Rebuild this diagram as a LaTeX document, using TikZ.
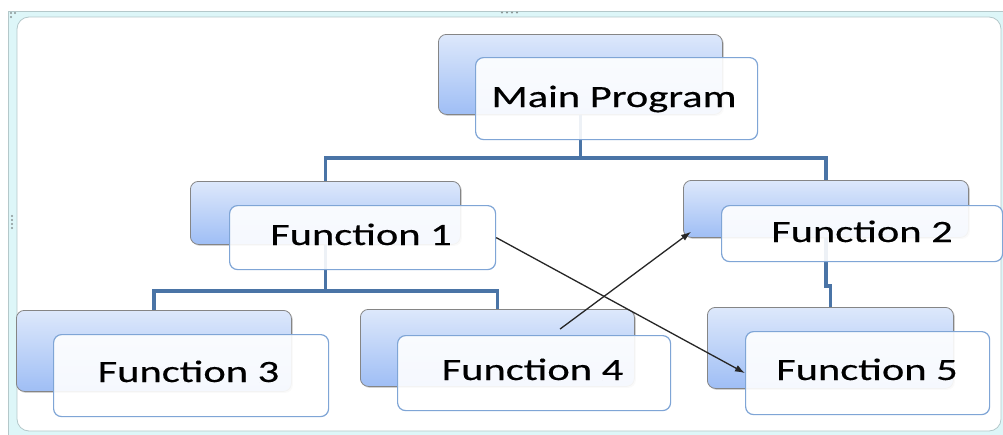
\documentclass[tikz,border=0pt]{standalone}
\usepackage{fontspec}
\setmainfont{Carlito}
\newfontfamily\boxfont[FakeStretch=1.37,FakeBold=0.4]{Carlito}
\usetikzlibrary{arrows.meta,shadows,calc}
\definecolor{boxtop}{HTML}{DDE8FB}
\definecolor{boxbot}{HTML}{9FBEF5}
\definecolor{boxedge}{HTML}{858585}
\definecolor{frontedge}{HTML}{7FA5D6}
\definecolor{linkblue}{HTML}{4A74A6}
\definecolor{bandcyan}{HTML}{DDF6F8}
\definecolor{bandedge}{HTML}{B4C8CA}
\definecolor{handle}{HTML}{8A9696}
\begin{document}
\begin{tikzpicture}[x=1pt,y=-1pt,
  backbox/.style={draw=boxedge, line width=0.8pt, rounded corners=8pt,
    top color=boxtop, bottom color=boxbot,
    drop shadow={shadow xshift=1.5pt, shadow yshift=-1.5pt, opacity=0.35},
    anchor=north west, inner sep=0pt},
  frontbox/.style={draw=frontedge, line width=1.2pt, rounded corners=8pt,
    fill=white, fill opacity=0.9, anchor=north west, inner sep=0pt},
  lbl/.style={anchor=base, inner sep=0pt, font=\boxfont\fontsize{31pt}{36pt}\selectfont},
  conn/.style={draw=linkblue, line width=3.5pt},
  arr/.style={draw=black!85, line width=1.3pt, -{Latex[length=10pt,width=7pt]}},
  dot/.style={fill=handle, draw=none}]

\useasboundingbox (0,0) rectangle (1003,434);

% canvas frame
\fill[bandcyan, draw=bandedge, line width=0.8pt] (8,11) rectangle (1010,440);
\fill[white, draw=bandedge, line width=0.8pt, rounded corners=12pt] (17,17) rectangle (1001,431);
\foreach \p in {(11,13),(15,13),(11,17)} \fill[dot] \p circle (1.1);
\foreach \x in {502,507,512,517} \fill[dot] (\x,12.5) circle (1.1);
\foreach \y in {216,220,224,228} \fill[dot] (12,\y) circle (1.1);

% back boxes
\node[backbox, minimum width=284pt, minimum height=80pt] (mainB) at (438,34) {};
\node[backbox, minimum width=270pt, minimum height=63pt] (f1B) at (190,181) {};
\node[backbox, minimum width=285pt, minimum height=57pt] (f2B) at (683,180) {};
\node[backbox, minimum width=275pt, minimum height=81pt] (f3B) at (16,310) {};
\node[backbox, minimum width=274pt, minimum height=77pt] (f4B) at (360,309) {};
\node[backbox, minimum width=246pt, minimum height=81pt] (f5B) at (707,307) {};

% hierarchy links
\draw[conn] (mainB.south) -- ++(0,43) coordinate (mj);
\draw[conn] (mj) -| (f1B.north);
\draw[conn] (mj) -| (f2B.north);
\draw[conn] (f1B.south) -- ++(0,46) coordinate (fj);
\draw[conn] (fj) -| (f3B.north);
\draw[conn] (fj) -| (f4B.north);
\draw[conn] (f2B.south) -- ++(0,48) -| (f5B.north);

% front boxes
\node[frontbox, minimum width=282pt, minimum height=82pt] (main) at (475,57) {};
\node[frontbox, minimum width=266pt, minimum height=64pt] (f1) at (229,205) {};
\node[frontbox, minimum width=281pt, minimum height=56pt] (f2) at (721,205) {};
\node[frontbox, minimum width=275pt, minimum height=82pt] (f3) at (53,334) {};
\node[frontbox, minimum width=273pt, minimum height=75pt] (f4) at (397,335) {};
\node[frontbox, minimum width=244pt, minimum height=83pt] (f5) at (745,331) {};

% labels
\node[lbl] (mainT) at (614,107) {Main Program};
\node[lbl] (f1T) at (361,245) {Function 1};
\node[lbl] (f2T) at (862,242) {Function 2};
\node[lbl] (f3T) at (188.5,382) {Function 3};
\node[lbl] (f4T) at (532.5,380) {Function 4};
\node[lbl] (f5T) at (867,380) {Function 5};

% call arrows
\draw[arr] (f1.east) -- (f5.west);
\draw[arr] ($(f4.north)+(26,-6)$) -- ($(f2B.south west)+(8,-6)$);
\end{tikzpicture}
\end{document}
